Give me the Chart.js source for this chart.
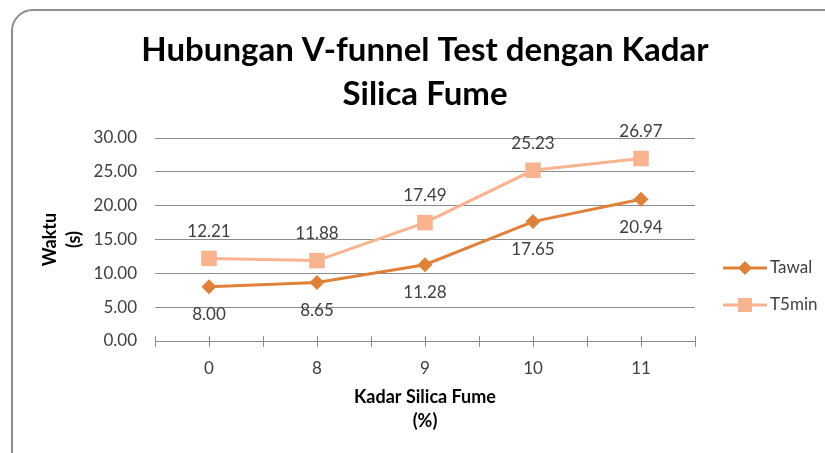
<!DOCTYPE html>
<html>
<head>
<meta charset="utf-8">
<script src="https://cdn.jsdelivr.net/npm/chart.js@4/dist/chart.umd.min.js"></script>
<style>
  html, body { margin: 0; padding: 0; background: #fff; overflow: hidden; }
  #frame { position: absolute; left: 11px; top: 9px; width: 900px; height: 520px;
           border: 2px solid #8e8e8e; border-radius: 22px; box-sizing: border-box; }
  #wrap { position: absolute; left: 0; top: 0; width: 825px; height: 453px; }
</style>
</head>
<body>
<div id="frame"></div>
<div id="wrap"><canvas id="chart" width="825" height="453"></canvas></div>
<script>
// Kadar silica fume (%)
const kadar = ['0', '8', '9', '10', '11'];
// waktu (s)
const tawal = [8.00, 8.65, 11.28, 17.65, 20.94];
const t5min = [12.21, 11.88, 17.49, 25.23, 26.97];

const judul = ['Hubungan V-funnel Test dengan Kadar', 'Silica Fume'];

const warnaTawal = '#E0813A';
const warnaT5 = '#F9B38F';
const teks = '#404040';
const abu = '#8c8c8c';

// judul digambar sendiri, di tengah area plot
const judulAtas = {
    id: 'judulAtas',
    afterDraw(chart) {
        const ctx = chart.ctx;
        const cx = (chart.chartArea.left + chart.chartArea.right) / 2;
        ctx.save();
        ctx.font = 'bold 33px Lato';
        ctx.fillStyle = '#000';
        ctx.textAlign = 'center';
        ctx.textBaseline = 'middle';
        judul.forEach((t, i) => ctx.fillText(t, cx, 50 + i * 44));
        ctx.restore();
    }
};

// label angka di atas / bawah titik
const labelData = {
    id: 'labelData',
    afterDatasetsDraw(chart) {
        const ctx = chart.ctx;
        ctx.save();
        ctx.font = '17px Lato';
        ctx.fillStyle = teks;
        ctx.textAlign = 'center';
        ctx.textBaseline = 'middle';
        chart.data.datasets.forEach((ds, i) => {
            const meta = chart.getDatasetMeta(i);
            const dy = ds.label === 'Tawal' ? 28 : -27;
            meta.data.forEach((pt, j) => {
                ctx.fillText(ds.data[j].toFixed(2), pt.x, pt.y + dy);
            });
        });
        ctx.restore();
    }
};

// tanda tick sumbu X (batas dan tengah kategori)
const tickX = {
    id: 'tickX',
    afterDraw(chart) {
        const x = chart.scales.x;
        const ctx = chart.ctx;
        const y0 = chart.chartArea.bottom;
        const half = (x.getPixelForValue(1) - x.getPixelForValue(0)) / 2;
        ctx.save();
        ctx.strokeStyle = abu;
        ctx.lineWidth = 1;
        for (let i = 0; i < kadar.length; i++) {
            const c = x.getPixelForValue(i);
            [c - half, c, c + half].forEach(px => {
                ctx.beginPath();
                ctx.moveTo(Math.round(px) + 0.5, y0 - 5);
                ctx.lineTo(Math.round(px) + 0.5, y0 + 6);
                ctx.stroke();
            });
        }
        ctx.restore();
    }
};

// legenda di kanan
const legendaKanan = {
    id: 'legendaKanan',
    afterDraw(chart) {
        const ctx = chart.ctx;
        const x0 = chart.chartArea.right + 28;
        const items = [
            { label: 'Tawal', color: warnaTawal, style: 'diamond', y: 268 },
            { label: 'T5min', color: warnaT5, style: 'square', y: 305 }
        ];
        ctx.save();
        items.forEach(it => {
            ctx.strokeStyle = it.color;
            ctx.fillStyle = it.color;
            ctx.lineWidth = 3;
            ctx.beginPath();
            ctx.moveTo(x0, it.y);
            ctx.lineTo(x0 + 44, it.y);
            ctx.stroke();
            const cx = x0 + 22;
            ctx.beginPath();
            if (it.style === 'diamond') {
                ctx.moveTo(cx, it.y - 7);
                ctx.lineTo(cx + 7, it.y);
                ctx.lineTo(cx, it.y + 7);
                ctx.lineTo(cx - 7, it.y);
                ctx.closePath();
            } else {
                ctx.rect(cx - 7, it.y - 7, 14, 14);
            }
            ctx.fill();
            ctx.fillStyle = teks;
            ctx.font = '17px Lato';
            ctx.textAlign = 'left';
            ctx.textBaseline = 'middle';
            ctx.fillText(it.label, x0 + 47, it.y);
        });
        ctx.restore();
    }
};

new Chart(document.getElementById('chart'), {
    type: 'line',
    data: {
        labels: kadar,
        datasets: [
            {
                label: 'Tawal',
                data: tawal,
                borderColor: warnaTawal,
                backgroundColor: warnaTawal,
                borderWidth: 3,
                pointStyle: 'rectRot',
                pointRadius: 7.5,
                pointBorderWidth: 0,
                tension: 0
            },
            {
                label: 'T5min',
                data: t5min,
                borderColor: warnaT5,
                backgroundColor: warnaT5,
                borderWidth: 3,
                pointStyle: 'rect',
                pointRadius: 11,
                pointBorderWidth: 0,
                tension: 0
            }
        ]
    },
    options: {
        responsive: false,
        animation: false,
        events: [],
        layout: { padding: { left: 0, right: 130, top: 138, bottom: 0 } },
        plugins: {
            legend: { display: false },
            tooltip: { enabled: false },
            title: { display: false }
        },
        scales: {
            x: {
                offset: true,
                grid: { display: false, drawTicks: false },
                border: { display: true, color: abu, width: 1 },
                ticks: { color: teks, font: { family: 'Lato', size: 17 }, padding: 17 },
                title: {
                    display: true,
                    text: ['Kadar Silica Fume', '(%)'],
                    color: '#000',
                    font: { family: 'Lato', size: 18, weight: 'bold', lineHeight: 1.33 },
                    padding: { top: 0, bottom: 20 }
                },
                afterFit(s) { s.height = 112; }
            },
            y: {
                min: 0,
                max: 30,
                ticks: {
                    stepSize: 5,
                    color: teks,
                    font: { family: 'Lato', size: 17 },
                    padding: 18,
                    callback: v => v.toFixed(2)
                },
                grid: { color: abu, drawTicks: false },
                border: { display: false },
                title: {
                    display: true,
                    text: ['Waktu', '(s)'],
                    color: '#000',
                    font: { family: 'Lato', size: 18, weight: 'bold', lineHeight: 1.33 },
                    padding: { top: 38, bottom: 0 }
                },
                afterFit(s) { s.width = 155; }
            }
        }
    },
    plugins: [labelData, tickX, legendaKanan, judulAtas]
});
</script>
</body>
</html>
